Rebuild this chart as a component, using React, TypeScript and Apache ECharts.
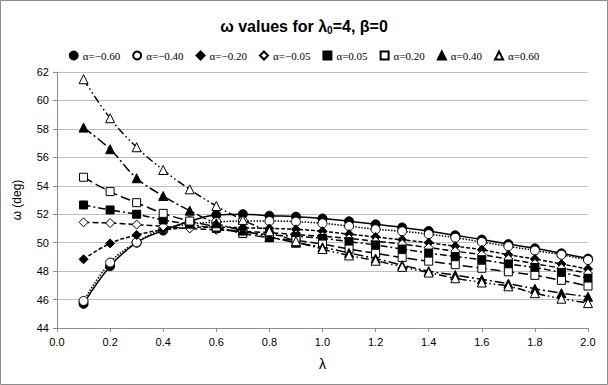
import React, { useEffect, useRef } from "react";
import * as echarts from "echarts";

const lambdas = [0.1, 0.2, 0.3, 0.4, 0.5, 0.6, 0.7, 0.8, 0.9, 1.0, 1.1, 1.2, 1.3, 1.4, 1.5, 1.6, 1.7, 1.8, 1.9, 2.0];

const seriesNames = ["α=−0.60", "α=−0.40", "α=−0.20", "α=−0.05", "α=0.05", "α=0.20", "α=0.40", "α=0.60"];

const aM060 = [45.7, 48.35, 50.0, 50.85, 51.5, 51.95, 52.0, 51.9, 51.83, 51.7, 51.5, 51.29, 51.07, 50.82, 50.52, 50.22, 49.9, 49.6, 49.25, 48.88];
const aM040 = [45.9, 48.6, 50.03, 50.95, 51.3, 51.45, 51.52, 51.52, 51.48, 51.36, 51.17, 50.94, 50.8, 50.6, 50.35, 50.05, 49.75, 49.45, 49.15, 48.78];
const aM020 = [48.83, 49.95, 50.54, 50.9, 51.05, 51.1, 51.05, 51.0, 50.94, 50.8, 50.6, 50.4, 50.2, 50.0, 49.75, 49.5, 49.15, 48.85, 48.5, 48.15];
const aM005 = [51.43, 51.38, 51.27, 51.15, 51.0, 50.9, 50.8, 50.7, 50.57, 50.45, 50.3, 50.1, 49.9, 49.65, 49.4, 49.15, 48.85, 48.52, 48.2, 47.85];
const aP005 = [52.65, 52.3, 52.0, 51.6, 51.3, 51.0, 50.77, 50.55, 50.45, 50.3, 50.07, 49.84, 49.55, 49.27, 49.03, 48.8, 48.5, 48.25, 47.9, 47.5];
const aP020 = [54.6, 53.59, 52.81, 52.06, 51.52, 51.1, 50.65, 50.35, 50.15, 49.9, 49.55, 49.25, 48.95, 48.7, 48.45, 48.2, 47.95, 47.7, 47.35, 46.95];
const aP040 = [58.09, 56.57, 54.53, 53.28, 52.25, 51.36, 50.85, 50.4, 50.0, 49.68, 49.28, 48.88, 48.42, 48.0, 47.72, 47.42, 47.12, 46.76, 46.45, 46.2];
const aP060 = [61.49, 58.75, 56.71, 55.11, 53.75, 52.58, 51.6, 50.8, 50.1, 49.55, 49.1, 48.73, 48.3, 47.9, 47.5, 47.2, 46.93, 46.45, 46.06, 45.75];

const values = [aM060, aM040, aM020, aM005, aP005, aP020, aP040, aP060];

const yTicks = [44, 46, 48, 50, 52, 54, 56, 58, 60, 62];

const symbols = ["circle", "circle", "diamond", "diamond", "rect", "rect", "triangle", "triangle"];
const filled = [true, false, true, false, true, false, true, false];
const dashes: any[] = [
  "solid",
  [1.5, 1.5],
  [4, 2],
  [6, 3],
  [7, 3, 2, 3],
  [10, 4],
  [10, 3, 2, 3],
  [8, 3, 1.5, 3, 1.5, 3],
];
const symbolSizes = [9, 9, 9, 9, 8, 8, 9, 9];

export default function App() {
  const ref = useRef<HTMLDivElement>(null);
  useEffect(() => {
    if (!ref.current) return;
    const chart = echarts.init(ref.current, undefined, { renderer: "svg" });
    const series = values.map((vals, i) => ({
      name: seriesNames[i],
      type: "line",
      smooth: 0.4,
      data: lambdas.map((x, j) => [x, vals[j]]),
      symbol: symbols[i],
      symbolSize: symbolSizes[i],
      showSymbol: true,
      z: 2 + i,
      itemStyle: {
        color: filled[i] ? "#000" : "#fff",
        borderColor: "#000",
        borderWidth: 1,
      },
      lineStyle: {
        color: "#000",
        width: 1.5,
        type: dashes[i],
      },
      emphasis: { disabled: true },
    }));
    chart.setOption({
      animation: false,
      backgroundColor: "#fff",
      title: {
        text: "{a|ω values for λ}{s|0}{a|=4, β=0}",
        left: "center",
        top: 12,
        textStyle: {
          rich: {
            a: { fontFamily: "Liberation Sans", fontSize: 16, fontWeight: "bold", color: "#000" },
            s: { fontFamily: "Liberation Sans", fontSize: 10, fontWeight: "bold", color: "#000", padding: [8, 0, 0, 0] },
          },
        },
      },
      legend: {
        top: 45,
        left: "center",
        itemWidth: 8,
        itemHeight: 8,
        itemGap: 12,
        data: seriesNames.map((n, i) => ({ name: n, icon: symbols[i] })),
        textStyle: { fontFamily: "Liberation Serif", fontSize: 11, color: "#000" },
      },
      graphic: [
        {
          type: "rect",
          shape: { x: 0.5, y: 0.5, width: 607, height: 384 },
          style: { fill: "none", stroke: "#8c8c8c", lineWidth: 1 },
          silent: true,
        },
      ],
      grid: { left: 57, right: 20, top: 72, bottom: 57 },
      xAxis: {
        type: "value",
        min: 0,
        max: 2,
        interval: 0.2,
        name: "λ",
        nameLocation: "middle",
        nameGap: 29,
        nameTextStyle: { fontFamily: "Liberation Sans", fontSize: 14, color: "#000" },
        axisLine: { show: true, lineStyle: { color: "#8c8c8c", width: 1 } },
        axisTick: { show: true, inside: false, length: 4, lineStyle: { color: "#8c8c8c" } },
        axisLabel: {
          formatter: (v: number) => v.toFixed(1),
          fontFamily: "Liberation Sans",
          fontSize: 11,
          color: "#000",
          margin: 8,
        },
        splitLine: { show: false },
      },
      yAxis: {
        type: "value",
        min: yTicks[0],
        max: yTicks[yTicks.length - 1],
        interval: 2,
        name: "ω (deg)",
        nameLocation: "middle",
        nameGap: 34,
        nameRotate: 90,
        nameTextStyle: { fontFamily: "Liberation Sans", fontSize: 12, color: "#000" },
        axisLine: { show: true, lineStyle: { color: "#8c8c8c", width: 1 } },
        axisTick: { show: true, inside: false, length: 4, lineStyle: { color: "#8c8c8c" } },
        axisLabel: { fontFamily: "Liberation Sans", fontSize: 11, color: "#000", margin: 8 },
        splitLine: { show: true, lineStyle: { color: "#c0c0c0", width: 1 } },
      },
      series,
    });
    return () => chart.dispose();
  }, []);
  return (
    <div
      ref={ref}
      style={{ position: "fixed", left: 0, top: 0, width: 608, height: 385 }}
    />
  );
}
